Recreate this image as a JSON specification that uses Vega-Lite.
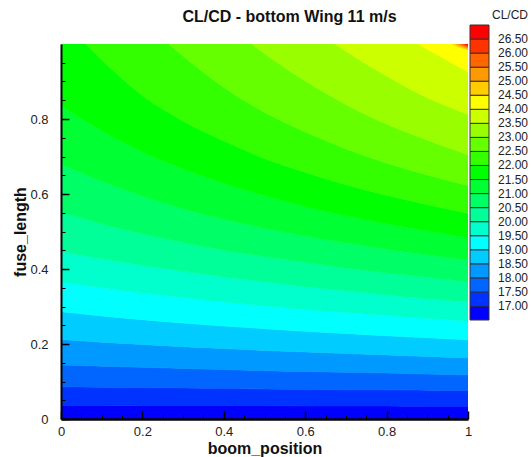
{
  "$schema": "https://vega.github.io/schema/vega-lite/v6.json",
  "width": 407,
  "height": 375,
  "autosize": {"type": "none"},
  "padding": {"left": 61, "top": 44, "right": 63, "bottom": 38},
  "background": "white",
  "config": {"font": "Liberation Sans", "view": {"stroke": null}},
  "title": {"text": "CL/CD - bottom Wing 11 m/s", "fontSize": 16, "fontWeight": "bold", "color": "#111", "anchor": "middle", "frame": "group", "dx": 25, "dy": 33, "offset": 18},
  "datasets": {
    "bands": [
      {"x":0,"band":16.75,"lo":0,"hi":0.037},{"x":0.1,"band":16.75,"lo":0,"hi":0.037},{"x":0.2,"band":16.75,"lo":0,"hi":0.036},{"x":0.3,"band":16.75,"lo":0,"hi":0.036},{"x":0.4,"band":16.75,"lo":0,"hi":0.036},{"x":0.5,"band":16.75,"lo":0,"hi":0.036},{"x":0.6,"band":16.75,"lo":0,"hi":0.035},{"x":0.7,"band":16.75,"lo":0,"hi":0.035},{"x":0.8,"band":16.75,"lo":0,"hi":0.035},{"x":0.9,"band":16.75,"lo":0,"hi":0.034},{"x":0.95,"band":16.75,"lo":0,"hi":0.034},{"x":1,"band":16.75,"lo":0,"hi":0.034},
      {"x":0,"band":17.25,"lo":0.037,"hi":0.086},{"x":0.1,"band":17.25,"lo":0.037,"hi":0.085},{"x":0.2,"band":17.25,"lo":0.036,"hi":0.084},{"x":0.3,"band":17.25,"lo":0.036,"hi":0.083},{"x":0.4,"band":17.25,"lo":0.036,"hi":0.082},{"x":0.5,"band":17.25,"lo":0.036,"hi":0.080},{"x":0.6,"band":17.25,"lo":0.035,"hi":0.079},{"x":0.7,"band":17.25,"lo":0.035,"hi":0.078},{"x":0.8,"band":17.25,"lo":0.035,"hi":0.078},{"x":0.9,"band":17.25,"lo":0.034,"hi":0.077},{"x":0.95,"band":17.25,"lo":0.034,"hi":0.076},{"x":1,"band":17.25,"lo":0.034,"hi":0.076},
      {"x":0,"band":17.75,"lo":0.086,"hi":0.144},{"x":0.1,"band":17.75,"lo":0.085,"hi":0.141},{"x":0.2,"band":17.75,"lo":0.084,"hi":0.138},{"x":0.3,"band":17.75,"lo":0.083,"hi":0.135},{"x":0.4,"band":17.75,"lo":0.082,"hi":0.132},{"x":0.5,"band":17.75,"lo":0.080,"hi":0.129},{"x":0.6,"band":17.75,"lo":0.079,"hi":0.127},{"x":0.7,"band":17.75,"lo":0.078,"hi":0.125},{"x":0.8,"band":17.75,"lo":0.078,"hi":0.123},{"x":0.9,"band":17.75,"lo":0.077,"hi":0.120},{"x":0.95,"band":17.75,"lo":0.076,"hi":0.119},{"x":1,"band":17.75,"lo":0.076,"hi":0.118},
      {"x":0,"band":18.25,"lo":0.144,"hi":0.212},{"x":0.1,"band":18.25,"lo":0.141,"hi":0.205},{"x":0.2,"band":18.25,"lo":0.138,"hi":0.199},{"x":0.3,"band":18.25,"lo":0.135,"hi":0.193},{"x":0.4,"band":18.25,"lo":0.132,"hi":0.188},{"x":0.5,"band":18.25,"lo":0.129,"hi":0.183},{"x":0.6,"band":18.25,"lo":0.127,"hi":0.179},{"x":0.7,"band":18.25,"lo":0.125,"hi":0.175},{"x":0.8,"band":18.25,"lo":0.123,"hi":0.171},{"x":0.9,"band":18.25,"lo":0.120,"hi":0.167},{"x":0.95,"band":18.25,"lo":0.119,"hi":0.165},{"x":1,"band":18.25,"lo":0.118,"hi":0.163},
      {"x":0,"band":18.75,"lo":0.212,"hi":0.286},{"x":0.1,"band":18.75,"lo":0.205,"hi":0.275},{"x":0.2,"band":18.75,"lo":0.199,"hi":0.265},{"x":0.3,"band":18.75,"lo":0.193,"hi":0.256},{"x":0.4,"band":18.75,"lo":0.188,"hi":0.248},{"x":0.5,"band":18.75,"lo":0.183,"hi":0.241},{"x":0.6,"band":18.75,"lo":0.179,"hi":0.234},{"x":0.7,"band":18.75,"lo":0.175,"hi":0.228},{"x":0.8,"band":18.75,"lo":0.171,"hi":0.222},{"x":0.9,"band":18.75,"lo":0.167,"hi":0.217},{"x":0.95,"band":18.75,"lo":0.165,"hi":0.214},{"x":1,"band":18.75,"lo":0.163,"hi":0.211},
      {"x":0,"band":19.25,"lo":0.286,"hi":0.365},{"x":0.1,"band":19.25,"lo":0.275,"hi":0.350},{"x":0.2,"band":19.25,"lo":0.265,"hi":0.336},{"x":0.3,"band":19.25,"lo":0.256,"hi":0.324},{"x":0.4,"band":19.25,"lo":0.248,"hi":0.312},{"x":0.5,"band":19.25,"lo":0.241,"hi":0.302},{"x":0.6,"band":19.25,"lo":0.234,"hi":0.292},{"x":0.7,"band":19.25,"lo":0.228,"hi":0.284},{"x":0.8,"band":19.25,"lo":0.222,"hi":0.276},{"x":0.9,"band":19.25,"lo":0.217,"hi":0.268},{"x":0.95,"band":19.25,"lo":0.214,"hi":0.265},{"x":1,"band":19.25,"lo":0.211,"hi":0.261},
      {"x":0,"band":19.75,"lo":0.365,"hi":0.446},{"x":0.1,"band":19.75,"lo":0.350,"hi":0.427},{"x":0.2,"band":19.75,"lo":0.336,"hi":0.410},{"x":0.3,"band":19.75,"lo":0.324,"hi":0.394},{"x":0.4,"band":19.75,"lo":0.312,"hi":0.379},{"x":0.5,"band":19.75,"lo":0.302,"hi":0.366},{"x":0.6,"band":19.75,"lo":0.292,"hi":0.353},{"x":0.7,"band":19.75,"lo":0.284,"hi":0.342},{"x":0.8,"band":19.75,"lo":0.276,"hi":0.331},{"x":0.9,"band":19.75,"lo":0.268,"hi":0.321},{"x":0.95,"band":19.75,"lo":0.265,"hi":0.317},{"x":1,"band":19.75,"lo":0.261,"hi":0.312},
      {"x":0,"band":20.25,"lo":0.446,"hi":0.552},{"x":0.1,"band":20.25,"lo":0.427,"hi":0.521},{"x":0.2,"band":20.25,"lo":0.410,"hi":0.494},{"x":0.3,"band":20.25,"lo":0.394,"hi":0.471},{"x":0.4,"band":20.25,"lo":0.379,"hi":0.450},{"x":0.5,"band":20.25,"lo":0.366,"hi":0.433},{"x":0.6,"band":20.25,"lo":0.353,"hi":0.418},{"x":0.7,"band":20.25,"lo":0.342,"hi":0.403},{"x":0.8,"band":20.25,"lo":0.331,"hi":0.390},{"x":0.9,"band":20.25,"lo":0.321,"hi":0.378},{"x":0.95,"band":20.25,"lo":0.317,"hi":0.372},{"x":1,"band":20.25,"lo":0.312,"hi":0.366},
      {"x":0,"band":20.75,"lo":0.552,"hi":0.680},{"x":0.1,"band":20.75,"lo":0.521,"hi":0.634},{"x":0.2,"band":20.75,"lo":0.494,"hi":0.595},{"x":0.3,"band":20.75,"lo":0.471,"hi":0.561},{"x":0.4,"band":20.75,"lo":0.450,"hi":0.533},{"x":0.5,"band":20.75,"lo":0.433,"hi":0.509},{"x":0.6,"band":20.75,"lo":0.418,"hi":0.488},{"x":0.7,"band":20.75,"lo":0.403,"hi":0.470},{"x":0.8,"band":20.75,"lo":0.390,"hi":0.453},{"x":0.9,"band":20.75,"lo":0.378,"hi":0.438},{"x":0.95,"band":20.75,"lo":0.372,"hi":0.431},{"x":1,"band":20.75,"lo":0.366,"hi":0.424},
      {"x":0,"band":21.25,"lo":0.680,"hi":0.837},{"x":0.1,"band":21.25,"lo":0.634,"hi":0.769},{"x":0.2,"band":21.25,"lo":0.595,"hi":0.713},{"x":0.3,"band":21.25,"lo":0.561,"hi":0.667},{"x":0.4,"band":21.25,"lo":0.533,"hi":0.629},{"x":0.5,"band":21.25,"lo":0.509,"hi":0.596},{"x":0.6,"band":21.25,"lo":0.488,"hi":0.567},{"x":0.7,"band":21.25,"lo":0.470,"hi":0.542},{"x":0.8,"band":21.25,"lo":0.453,"hi":0.521},{"x":0.9,"band":21.25,"lo":0.438,"hi":0.502},{"x":0.95,"band":21.25,"lo":0.431,"hi":0.493},{"x":1,"band":21.25,"lo":0.424,"hi":0.484},
      {"x":0,"band":21.75,"lo":0.837,"hi":1.071},{"x":0.1,"band":21.75,"lo":0.769,"hi":0.958},{"x":0.2,"band":21.75,"lo":0.713,"hi":0.863},{"x":0.3,"band":21.75,"lo":0.667,"hi":0.795},{"x":0.4,"band":21.75,"lo":0.629,"hi":0.742},{"x":0.5,"band":21.75,"lo":0.596,"hi":0.695},{"x":0.6,"band":21.75,"lo":0.567,"hi":0.658},{"x":0.7,"band":21.75,"lo":0.542,"hi":0.625},{"x":0.8,"band":21.75,"lo":0.521,"hi":0.597},{"x":0.9,"band":21.75,"lo":0.502,"hi":0.572},{"x":0.95,"band":21.75,"lo":0.493,"hi":0.560},{"x":1,"band":21.75,"lo":0.484,"hi":0.549},
      {"x":0,"band":22.25,"lo":1.071,"hi":1.310},{"x":0.1,"band":22.25,"lo":0.958,"hi":1.177},{"x":0.2,"band":22.25,"lo":0.863,"hi":1.065},{"x":0.3,"band":22.25,"lo":0.795,"hi":0.968},{"x":0.4,"band":22.25,"lo":0.742,"hi":0.885},{"x":0.5,"band":22.25,"lo":0.695,"hi":0.818},{"x":0.6,"band":22.25,"lo":0.658,"hi":0.766},{"x":0.7,"band":22.25,"lo":0.625,"hi":0.721},{"x":0.8,"band":22.25,"lo":0.597,"hi":0.683},{"x":0.9,"band":22.25,"lo":0.572,"hi":0.651},{"x":0.95,"band":22.25,"lo":0.560,"hi":0.637},{"x":1,"band":22.25,"lo":0.549,"hi":0.623},
      {"x":0,"band":22.75,"lo":1.310,"hi":1.548},{"x":0.1,"band":22.75,"lo":1.177,"hi":1.395},{"x":0.2,"band":22.75,"lo":1.065,"hi":1.266},{"x":0.3,"band":22.75,"lo":0.968,"hi":1.155},{"x":0.4,"band":22.75,"lo":0.885,"hi":1.059},{"x":0.5,"band":22.75,"lo":0.818,"hi":0.975},{"x":0.6,"band":22.75,"lo":0.766,"hi":0.902},{"x":0.7,"band":22.75,"lo":0.721,"hi":0.839},{"x":0.8,"band":22.75,"lo":0.683,"hi":0.787},{"x":0.9,"band":22.75,"lo":0.651,"hi":0.744},{"x":0.95,"band":22.75,"lo":0.637,"hi":0.724},{"x":1,"band":22.75,"lo":0.623,"hi":0.705},
      {"x":0,"band":23.25,"lo":1.548,"hi":1.786},{"x":0.1,"band":23.25,"lo":1.395,"hi":1.614},{"x":0.2,"band":23.25,"lo":1.266,"hi":1.468},{"x":0.3,"band":23.25,"lo":1.155,"hi":1.343},{"x":0.4,"band":23.25,"lo":1.059,"hi":1.234},{"x":0.5,"band":23.25,"lo":0.975,"hi":1.139},{"x":0.6,"band":23.25,"lo":0.902,"hi":1.056},{"x":0.7,"band":23.25,"lo":0.839,"hi":0.981},{"x":0.8,"band":23.25,"lo":0.787,"hi":0.915},{"x":0.9,"band":23.25,"lo":0.744,"hi":0.857},{"x":0.95,"band":23.25,"lo":0.724,"hi":0.834},{"x":1,"band":23.25,"lo":0.705,"hi":0.812},
      {"x":0,"band":23.75,"lo":1.786,"hi":2.024},{"x":0.1,"band":23.75,"lo":1.614,"hi":1.832},{"x":0.2,"band":23.75,"lo":1.468,"hi":1.669},{"x":0.3,"band":23.75,"lo":1.343,"hi":1.530},{"x":0.4,"band":23.75,"lo":1.234,"hi":1.409},{"x":0.5,"band":23.75,"lo":1.139,"hi":1.303},{"x":0.6,"band":23.75,"lo":1.056,"hi":1.210},{"x":0.7,"band":23.75,"lo":0.981,"hi":1.127},{"x":0.8,"band":23.75,"lo":0.915,"hi":1.053},{"x":0.9,"band":23.75,"lo":0.857,"hi":0.986},{"x":0.95,"band":23.75,"lo":0.834,"hi":0.956},{"x":1,"band":23.75,"lo":0.812,"hi":0.926},
      {"x":0,"band":24.25,"lo":2.024,"hi":2.5},{"x":0.1,"band":24.25,"lo":1.832,"hi":2.5},{"x":0.2,"band":24.25,"lo":1.669,"hi":2.5},{"x":0.3,"band":24.25,"lo":1.530,"hi":2.5},{"x":0.4,"band":24.25,"lo":1.409,"hi":2.5},{"x":0.5,"band":24.25,"lo":1.303,"hi":2.5},{"x":0.6,"band":24.25,"lo":1.210,"hi":2.5},{"x":0.7,"band":24.25,"lo":1.127,"hi":2.5},{"x":0.8,"band":24.25,"lo":1.053,"hi":2.5},{"x":0.9,"band":24.25,"lo":0.986,"hi":2.5},{"x":0.95,"band":24.25,"lo":0.956,"hi":1.010},{"x":1,"band":24.25,"lo":0.926,"hi":0.985},
      {"x":0.9,"band":24.75,"lo":2.5,"hi":2.5},{"x":0.95,"band":24.75,"lo":1.010,"hi":1.020},{"x":1,"band":24.75,"lo":0.985,"hi":0.988},
      {"x":0.9,"band":25.25,"lo":2.5,"hi":2.5},{"x":0.95,"band":25.25,"lo":1.020,"hi":1.030},{"x":1,"band":25.25,"lo":0.988,"hi":0.991},
      {"x":0.9,"band":25.75,"lo":2.5,"hi":2.5},{"x":0.95,"band":25.75,"lo":1.030,"hi":1.040},{"x":1,"band":25.75,"lo":0.991,"hi":0.994},
      {"x":0.9,"band":26.25,"lo":2.5,"hi":2.5},{"x":0.95,"band":26.25,"lo":1.040,"hi":1.050},{"x":1,"band":26.25,"lo":0.994,"hi":0.997},
      {"x":0.9,"band":26.75,"lo":2.5,"hi":2.5},{"x":0.95,"band":26.75,"lo":1.050,"hi":2.5},{"x":1,"band":26.75,"lo":0.997,"hi":2.5}
    ]
  },
  "data": {"name": "bands"},
  "mark": {"type": "area", "interpolate": "monotone", "clip": true, "strokeWidth": 0.6},
  "encoding": {
    "x": {
      "field": "x", "type": "quantitative",
      "scale": {"domain": [0, 1], "nice": false},
      "axis": {
        "zindex": 1,
        "title": "boom_position", "titleFontSize": 16, "titleFontWeight": "bold", "titleColor": "#111", "titlePadding": -2,
        "values": [0,0.05,0.1,0.15,0.2,0.25,0.3,0.35,0.4,0.45,0.5,0.55,0.6,0.65,0.7,0.75,0.8,0.85,0.9,0.95,1],
        "format": "~g",
        "labelExpr": "abs(datum.value*5-round(datum.value*5))<0.001 ? datum.label : ''",
        "labelFontSize": 13, "labelColor": "#222", "labelFlush": false, "labelOverlap": false, "labelPadding": 14,
        "tickSize": {"condition": {"test": "abs(datum.value*5-round(datum.value*5))<0.001", "value": -8}, "value": -4},
        "tickWidth": {"condition": {"test": "abs(datum.value*5-round(datum.value*5))<0.001", "value": 1.5}, "value": 1},
        "tickColor": "#000", "domainColor": "#000", "domainWidth": 2.5, "grid": false
      }
    },
    "y": {
      "field": "lo", "type": "quantitative", "stack": null,
      "scale": {"domain": [0, 1], "nice": false},
      "axis": {
        "zindex": 1,
        "title": "fuse_length", "titleFontSize": 16, "titleFontWeight": "bold", "titleColor": "#111", "titlePadding": 1,
        "values": [0,0.05,0.1,0.15,0.2,0.25,0.3,0.35,0.4,0.45,0.5,0.55,0.6,0.65,0.7,0.75,0.8,0.85,0.9,0.95],
        "format": "~g",
        "labelExpr": "abs(datum.value*5-round(datum.value*5))<0.001 ? datum.label : ''",
        "labelFontSize": 13, "labelColor": "#222", "labelFlush": false, "labelOverlap": false, "labelPadding": 21,
        "tickSize": {"condition": {"test": "abs(datum.value*5-round(datum.value*5))<0.001", "value": -8}, "value": -4},
        "tickWidth": {"condition": {"test": "abs(datum.value*5-round(datum.value*5))<0.001", "value": 1.5}, "value": 1},
        "tickColor": "#000", "domainColor": "#000", "domainWidth": 2, "grid": false
      }
    },
    "y2": {"field": "hi"},
    "color": {
      "field": "band", "type": "quantitative",
      "scale": {
        "type": "threshold",
        "domain": [17,17.5,18,18.5,19,19.5,20,20.5,21,21.5,22,22.5,23,23.5,24,24.5,25,25.5,26,26.5],
        "range": ["#0000ff","#0033ff","#0066ff","#0099ff","#00ccff","#00ffff","#00ffcc","#00ff99","#00ff66","#00ff33","#00ff00","#33ff00","#66ff00","#99ff00","#ccff00","#ffff00","#ffcc00","#ff9900","#ff6600","#ff3300","#ff0000"]
      },
      "legend": {
        "type": "gradient", "orient": "none", "legendX": 409, "legendY": -34, "direction": "vertical",
        "gradientLength": 295, "gradientThickness": 19, "gradientStrokeColor": "#333", "gradientStrokeWidth": 1,
        "title": "CL/CD", "titleFontSize": 12, "titleFontWeight": "normal", "titleColor": "#222", "titleAnchor": "end", "titlePadding": 3,
        "format": ".2f", "labelFontSize": 12, "labelColor": "#222", "labelOffset": 9, "labelOverlap": false, "padding": 0
      }
    },
    "stroke": {
      "field": "band", "type": "quantitative",
      "scale": {
        "type": "threshold",
        "domain": [17,17.5,18,18.5,19,19.5,20,20.5,21,21.5,22,22.5,23,23.5,24,24.5,25,25.5,26,26.5],
        "range": ["#0000ff","#0033ff","#0066ff","#0099ff","#00ccff","#00ffff","#00ffcc","#00ff99","#00ff66","#00ff33","#00ff00","#33ff00","#66ff00","#99ff00","#ccff00","#ffff00","#ffcc00","#ff9900","#ff6600","#ff3300","#ff0000"]
      },
      "legend": null
    }
  }
}
